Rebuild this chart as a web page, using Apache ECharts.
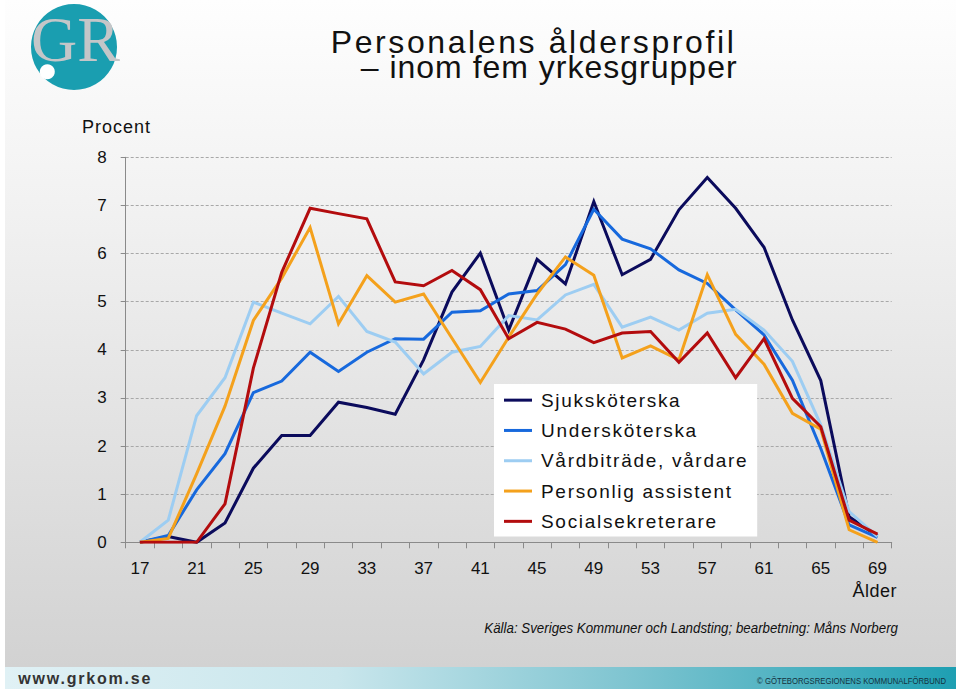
<!DOCTYPE html>
<html>
<head>
<meta charset="utf-8">
<script src="https://cdn.jsdelivr.net/npm/echarts@6/dist/echarts.min.js"></script>
<style>
  html, body { margin: 0; padding: 0; background: #fff; }
  #chart { width: 960px; height: 691px; }
</style>
</head>
<body>
<div id="chart"></div>
<script>
// ---- Data ----
const ages = ['17','19','21','23','25','27','29','31','33','35','37','39','41','43','45','47','49','51','53','55','57','59','61','63','65','67','69'];
const seriesNames = ['Sjuksköterska', 'Undersköterska', 'Vårdbiträde, vårdare', 'Personlig assistent', 'Socialsekreterare'];
const sjukskoterska   = [0, 0.12, 0, 0.40, 1.54, 2.22, 2.22, 2.91, 2.80, 2.66, 3.79, 5.20, 6.01, 4.41, 5.88, 5.37, 7.08, 5.56, 5.88, 6.91, 7.58, 6.94, 6.13, 4.62, 3.36, 0.53, 0.13];
const underskoterska  = [0, 0.14, 1.09, 1.84, 3.11, 3.35, 3.95, 3.55, 3.95, 4.23, 4.22, 4.78, 4.81, 5.16, 5.23, 5.77, 6.92, 6.30, 6.10, 5.66, 5.38, 4.83, 4.31, 3.37, 1.95, 0.36, 0.10];
const vardbitrade     = [0, 0.46, 2.63, 3.42, 4.99, 4.76, 4.54, 5.11, 4.38, 4.16, 3.50, 3.95, 4.07, 4.71, 4.62, 5.14, 5.36, 4.47, 4.68, 4.41, 4.76, 4.84, 4.41, 3.76, 2.44, 0.64, 0.12];
const personligAss    = [0, 0.08, 1.42, 2.83, 4.61, 5.49, 6.54, 4.54, 5.54, 4.99, 5.16, 4.24, 3.32, 4.26, 5.16, 5.93, 5.55, 3.83, 4.08, 3.79, 5.56, 4.32, 3.70, 2.68, 2.35, 0.26, 0];
const socialsekr      = [0, 0, 0, 0.80, 3.62, 5.61, 6.94, 6.83, 6.72, 5.41, 5.33, 5.65, 5.25, 4.23, 4.57, 4.43, 4.15, 4.35, 4.38, 3.74, 4.35, 3.42, 4.23, 2.99, 2.40, 0.46, 0.17];
const yTicks = [0, 1, 2, 3, 4, 5, 6, 7, 8];

const titleText = 'Personalens åldersprofil';
const subtitleText = '– inom fem yrkesgrupper';
const yAxisName = 'Procent';
const xAxisName = 'Ålder';
const sourceText = 'Källa: Sveriges Kommuner och Landsting; bearbetning: Måns Norberg';
const footerLeft = 'www.grkom.se';
const footerRight = '© GÖTEBORGSREGIONENS KOMMUNALFÖRBUND';
const logoText = 'GR';

// ---- Styles ----
const colors = ['#0b0b5c', '#1769dd', '#9dcdf2', '#f4a11c', '#b30c0e'];
const allData = [sjukskoterska, underskoterska, vardbitrade, personligAss, socialsekr];
const FONT = "'Liberation Sans', Arial, Helvetica, sans-serif";

const spacing = {};
spacing[titleText] = 2.6;
spacing[subtitleText] = 1.0;
spacing[yAxisName] = 1;
spacing[xAxisName] = 0.5;
spacing[footerLeft] = 1.8;
seriesNames.forEach(n => spacing[n] = 1.7);

const chart = echarts.init(document.getElementById('chart'), null, { renderer: 'svg' });

const option = {
  backgroundColor: '#ffffff',
  animation: false,
  textStyle: { fontFamily: FONT },
  grid: { left: 125.7, top: 157.3, width: 766, height: 385, containLabel: false },
  legend: {
    orient: 'vertical',
    left: 494, top: 384,
    backgroundColor: '#ffffff',
    padding: [1, 43, 0, 10],
    icon: 'rect',
    itemWidth: 28, itemHeight: 3,
    itemGap: 0,
    textStyle: { fontSize: 19, color: '#111', lineHeight: 30.3, fontFamily: FONT, padding: [0, 0, 0, 4] },
    data: seriesNames
  },
  xAxis: {
    type: 'category',
    data: ages,
    boundaryGap: true,
    axisLine: { lineStyle: { color: '#8a8a8a', width: 1 } },
    axisTick: { show: true, interval: 0, length: 6, lineStyle: { color: '#8a8a8a' } },
    axisLabel: { interval: 1, fontSize: 17, color: '#111', margin: 18, fontFamily: FONT },
    splitLine: { show: false }
  },
  yAxis: {
    type: 'value',
    min: yTicks[0], max: yTicks[yTicks.length - 1], interval: 1,
    axisLine: { show: true, lineStyle: { color: '#8a8a8a', width: 1 } },
    axisTick: { show: true, length: 5, lineStyle: { color: '#8a8a8a' } },
    axisLabel: { fontSize: 17, color: '#111', margin: 19, fontFamily: FONT },
    splitLine: { show: true, lineStyle: { color: '#a8a8a8', type: [3, 2], width: 1 } }
  },
  series: seriesNames.map((n, i) => ({
    name: n,
    type: 'line',
    data: allData[i],
    symbol: 'none',
    smooth: false,
    lineStyle: { color: colors[i], width: 3, join: 'miter' },
    itemStyle: { color: colors[i] },
    emphasis: { disabled: true }
  })),
  graphic: [
    // slide background
    { type: 'rect', silent: true, z: -10,
      shape: { x: 5, y: 0, width: 951, height: 667 },
      style: { fill: { type: 'linear', x: 0, y: 0, x2: 0, y2: 1,
        colorStops: [{ offset: 0, color: '#fefefe' }, { offset: 0.3, color: '#f2f2f2' }, { offset: 1, color: '#d2d2d2' }] } } },
    // footer band
    { type: 'rect', silent: true, z: -9,
      shape: { x: 5, y: 667, width: 951, height: 22 },
      style: { fill: { type: 'linear', x: 0, y: 0, x2: 1, y2: 0,
        colorStops: [{ offset: 0, color: '#e0f1f5' }, { offset: 0.35, color: '#c9e6ec' }, { offset: 0.65, color: '#80c5d1' }, { offset: 1, color: '#1e9fb2' }] } } },
    // logo
    { type: 'circle', silent: true, shape: { cx: 74, cy: 47, r: 43 }, style: { fill: '#1a9eb0' } },
    { type: 'text', silent: true, x: 31, y: 39,
      style: { text: logoText, font: "64px 'Liberation Serif', 'DejaVu Serif', serif", fill: '#c4c6c8', textVerticalAlign: 'middle' } },
    { type: 'circle', silent: true, shape: { cx: 47.3, cy: 71.7, r: 7.5 }, style: { fill: '#ffffff' } },
    // titles
    { type: 'text', silent: true, x: 330.7, y: 41.5,
      style: { text: titleText, font: '32px ' + FONT, fill: '#111', textVerticalAlign: 'middle' } },
    { type: 'text', silent: true, x: 360.7, y: 66.5,
      style: { text: subtitleText, font: '32px ' + FONT, fill: '#111', textVerticalAlign: 'middle' } },
    // axis names
    { type: 'text', silent: true, x: 82, y: 127,
      style: { text: yAxisName, font: '18px ' + FONT, fill: '#111', textVerticalAlign: 'middle' } },
    { type: 'text', silent: true, x: 897, y: 591,
      style: { text: xAxisName, font: '18px ' + FONT, fill: '#111', textAlign: 'right', textVerticalAlign: 'middle' } },
    // source
    { type: 'text', silent: true, x: 898, y: 627.5, scaleX: 0.86,
      style: { text: sourceText, font: 'italic 15.5px ' + FONT, fill: '#111', textAlign: 'right', textVerticalAlign: 'middle' } },
    // footer texts
    { type: 'text', silent: true, x: 18.3, y: 678,
      style: { text: footerLeft, font: 'bold 16px ' + FONT, fill: '#333', textAlign: 'left', textVerticalAlign: 'middle' } },
    { type: 'text', silent: true, x: 946, y: 680.5, scaleX: 0.86,
      style: { text: footerRight, font: '9px ' + FONT, fill: '#14323e', textAlign: 'right', textVerticalAlign: 'middle' } }
  ]
};

chart.setOption(option);

function applySpacing() {
  document.querySelectorAll('#chart text').forEach(t => {
    const s = spacing[t.textContent];
    if (s != null) t.setAttribute('letter-spacing', s);
  });
}
applySpacing();
chart.on('finished', applySpacing);
</script>
</body>
</html>
